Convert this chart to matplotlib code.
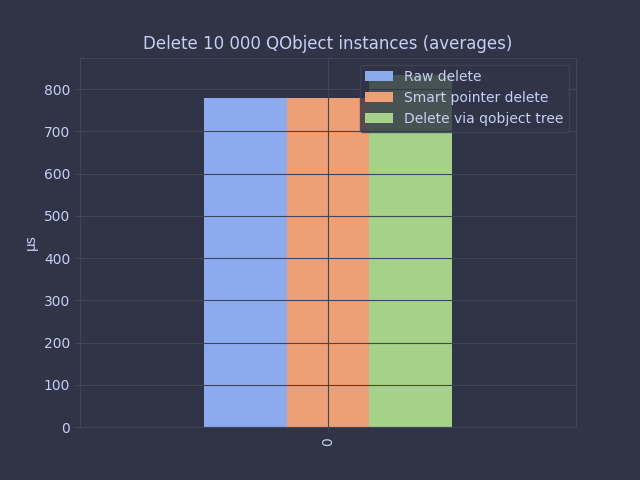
import numpy as np
import pandas as pd
import matplotlib
matplotlib.use('Agg')
import matplotlib.pyplot as plt

# averages in microseconds
series_names = ['Raw delete', 'Smart pointer delete', 'Delete via qobject tree']
series_values = [779, 779, 833]
bar_colors = ['#8caaee', '#ef9f76', '#a6d189']

bg = '#303446'
fg = '#c6d0f5'
grid_col = '#414559'

plt.rcParams.update({
	'figure.facecolor': bg,
	'axes.facecolor': bg,
	'axes.edgecolor': grid_col,
	'axes.labelcolor': fg,
	'axes.titlecolor': fg,
	'xtick.color': grid_col,
	'ytick.color': grid_col,
	'xtick.labelcolor': fg,
	'ytick.labelcolor': fg,
	'text.color': fg,
	'grid.color': grid_col,
	'legend.facecolor': bg,
	'legend.edgecolor': grid_col,
	'axes.grid': True,
	'axes.axisbelow': False,
})

df = pd.DataFrame([series_values], columns=series_names)

fig, ax = plt.subplots(figsize=(6.4, 4.8), dpi=100)
df.plot.bar(ax=ax, color=bar_colors)
ax.set_title('Delete 10 000 QObject instances (averages)')
ax.set_ylabel('µs')
leg = ax.legend(loc='upper right')
for t in leg.get_texts():
	t.set_color(fg)

plt.savefig('out.png', dpi=100, facecolor=bg)
